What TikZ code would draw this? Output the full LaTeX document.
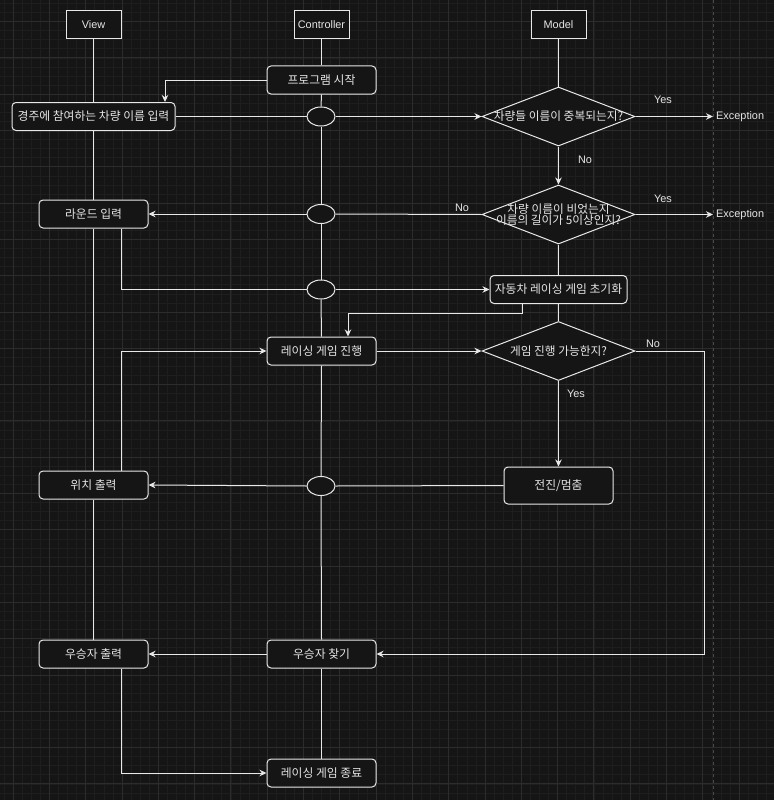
\documentclass[tikz,border=0pt]{standalone}
\usepackage{fontspec}
\setmainfont{Liberation Sans}
\newfontfamily\kr{Noto Sans CJK KR}
\usetikzlibrary{arrows.meta,shapes.geometric,calc}
\definecolor{bgc}{HTML}{151515}
\definecolor{gridminor}{HTML}{1E1E1E}
\definecolor{gridmajor}{HTML}{2C2C2C}
\definecolor{ln}{HTML}{E8E8E8}
\definecolor{tx}{HTML}{E6E6E6}
\definecolor{pagebrk}{HTML}{4A4A4A}
\begin{document}
\begin{tikzpicture}[x=1pt,y=-1pt,
  every node/.style={text=tx},
  fs/.style={font=\fontsize{10.9}{13.5}\selectfont},
  krf/.style={font=\kr\fontsize{11.7}{13.5}\selectfont},
  krb/.style={font=\kr\fontsize{11.8}{14}\selectfont},
  hdr/.style={draw=ln, line width=1pt, fill=bgc, minimum width=55pt, minimum height=28pt, inner sep=0pt, fs},
  box/.style={draw=ln, line width=1pt, fill=bgc, rounded corners=4pt, minimum height=28pt, inner sep=0pt, krb},
  dia/.style={draw=ln, line width=1pt, fill=bgc, diamond, minimum width=153pt, minimum height=59pt, inner sep=0pt},
  ell/.style={draw=ln, line width=1pt, fill=bgc, ellipse, minimum width=28pt, minimum height=19pt, inner sep=0pt},
  conn/.style={draw=ln, line width=1pt},
  arr/.style={conn, -{Stealth[length=7pt,width=6.5pt,inset=2.2pt]}},
  lbl/.style={fs, inner sep=1pt}
]
\useasboundingbox (0,0) rectangle (774,800);
\fill[bgc] (0,0) rectangle (774,800);
% grid
\foreach \i in {-1,...,85} {
  \pgfmathsetmacro\gx{13+\i*9.075}
  \draw[gridminor, line width=0.5pt] (\gx,0) -- (\gx,800);
}
\foreach \i in {-3,...,87} {
  \pgfmathsetmacro\gy{21.5+\i*9.075}
  \draw[gridminor, line width=0.5pt] (0,\gy) -- (774,\gy);
}
\foreach \i in {0,...,21} {
  \pgfmathsetmacro\gx{13+\i*36.3}
  \draw[gridmajor, line width=0.7pt] (\gx,0) -- (\gx,800);
}
\foreach \i in {-1,...,22} {
  \pgfmathsetmacro\gy{21.5+\i*36.3}
  \draw[gridmajor, line width=0.7pt] (0,\gy) -- (774,\gy);
}
\draw[pagebrk, line width=0.8pt, dash pattern=on 3pt off 3pt] (713,0) -- (713,800);

% headers
\node[hdr] (view) at (93.5,25) {View};
\node[hdr] (ctrl) at (321.5,25) {Controller};
\node[hdr] (model) at (558.5,25) {Model};

% boxes
\node[box, minimum width=109pt] (start) at (321.5,80) {프로그램 시작};
\node[box, minimum width=163pt] (input) at (93.5,116.5) {경주에 참여하는 차량 이름 입력};
\node[box, minimum width=109pt] (round) at (93.5,214) {라운드 입력};
\node[box, minimum width=137pt] (init) at (558.5,289.5) {자동차 레이싱 게임 초기화};
\node[box, minimum width=109pt] (prog) at (321.5,351) {레이싱 게임 진행};
\node[box, minimum width=109pt, minimum height=37pt] (move) at (558.5,485.5) {전진/멈춤};
\node[box, minimum width=109pt] (pos) at (93.5,485) {위치 출력};
\node[box, minimum width=109pt] (wout) at (93.5,654) {우승자 출력};
\node[box, minimum width=109pt] (win) at (321.5,654) {우승자 찾기};
\node[box, minimum width=109pt] (fin) at (321.5,773) {레이싱 게임 종료};

% diamonds
\node[dia, label={[krf]center:{차량들 이름이 중복되는지?}}] (d1) at (558.5,116.5) {};
\node[dia, label={[krf, align=center]center:{차량 이름이 비었는지\\[-2pt]이름의 길이가 5이상인지?}}] (d2) at (558.5,214.5) {};
\node[dia, label={[krf]center:{게임 진행 가능한지?}}] (d3) at (558.5,351) {};

% ellipses
\node[ell] (e1) at (321,116.5) {};
\node[ell] (e2) at (321,214) {};
\node[ell] (e3) at (321,289.5) {};
\node[ell] (e4) at (321,486) {};

% exception labels
\node[fs, anchor=west, inner sep=0pt, xshift=3pt] (x1) at (713,116.5) {Exception};
\node[fs, anchor=west, inner sep=0pt, xshift=3pt] (x2) at (713,214.5) {Exception};
\coordinate (x1t) at (713,116.5);
\coordinate (x2t) at (713,214.5);

% lifelines
\draw[conn] (view.south) -- (input.north);
\draw[conn] (input.south) -- (round.north);
\draw[conn] (round.south) -- (pos.north);
\draw[conn] (pos.south) -- (wout.north);
\draw[conn] (ctrl.south) -- (start.north);
\draw[conn] (start.south) -- (e1.north);
\draw[conn] (e1.south) -- (e2.north);
\draw[conn] (e2.south) -- (e3.north);
\draw[conn] (e3.south) -- (prog.north);
\draw[conn] (prog.south) -- (e4.north);
\draw[conn] (e4.south) -- (win.north);
\draw[conn] (win.south) -- (fin.north);
\draw[conn] (model.south) -- (d1.north);
\draw[conn] (d2.south) -- (init.north);
\draw[conn] (init.south) -- (d3.north);

% flow
\draw[arr] (start.west) -| ([xshift=71.5pt]input.north);
\draw[conn] (input.east) -- (e1.west);
\draw[arr] (e1.east) -- (d1.west);
\draw[arr] (d1.east) -- (x1t);
\node[lbl] (y1) at (663,100) {Yes};
\draw[arr] (d1.south) -- (d2.north);
\node[lbl] (n1) at (585,160) {No};
\draw[arr] (d2.east) -- (x2t);
\node[lbl] (y2) at (663,198.5) {Yes};
\draw[conn] (d2.west) -- (e2.east);
\draw[arr] (e2.west) -- (round.east);
\node[lbl] (n2) at (462,208) {No};
\draw[conn] ([xshift=27.5pt]round.south) |- (e3.west);
\draw[arr] (e3.east) -- (init.west);
\draw[arr] ([xshift=-36.5pt]init.south) -- ++(0,9) -| ([xshift=26.5pt]prog.north);
\draw[arr] (prog.east) -- (d3.west);
\draw[arr] (d3.east) -- ++(69,0) |- (win.east);
\node[lbl] (n3) at (653,344) {No};
\draw[arr] (d3.south) -- (move.north);
\node[lbl] (y3) at (576,394) {Yes};
\draw[conn] (move.west) -- (e4.east);
\draw[arr] (e4.west) -- (pos.east);
\draw[arr] ([xshift=27.5pt]pos.north) |- (prog.west);
\draw[arr] (win.west) -- (wout.east);
\draw[arr] ([xshift=27.5pt]wout.south) |- (fin.west);
\end{tikzpicture}
\end{document}
